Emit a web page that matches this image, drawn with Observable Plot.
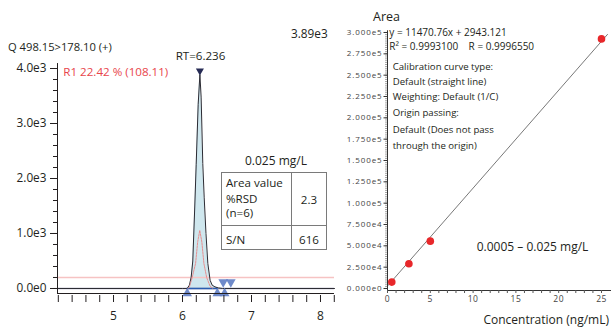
<!DOCTYPE html>
<html><head><meta charset="utf-8">
<script src="https://cdn.jsdelivr.net/npm/d3@7"></script>
<script src="https://cdn.jsdelivr.net/npm/@observablehq/plot@0.6"></script>
<style>
body{margin:0;background:#fff;}
#wrap{position:relative;width:611px;height:327px;overflow:hidden;font-family:'Open Sans',sans-serif;color:#231f20;background:#fff;}
#wrap svg{position:absolute;top:0;overflow:visible;background:transparent;}
.t{position:absolute;white-space:pre;line-height:1;}
.c{transform:translateX(-50%);}
.box{position:absolute;border:1px solid #7a7a7a;box-sizing:border-box;background:#fff;}
.ln{position:absolute;background:#7a7a7a;}
#right g[aria-label="y-axis tick label"] text{letter-spacing:0.9px;}
#right g[aria-label="x-axis tick label"] text{letter-spacing:0.5px;}
</style></head><body><div id="wrap"></div>
<script>
// ---- Left panel: chromatogram (Q 498.15>178.10) ----
const chromTime = [4.188, 6.00, 6.068, 6.10, 6.125, 6.149, 6.178, 6.198, 6.227, 6.252, 6.27, 6.294, 6.314, 6.34, 6.367, 6.40, 6.43, 6.47, 6.52, 6.58, 8.203];
const chromInt  = [0, 0, 0, 60, 200, 500, 1500, 2250, 3350, 3890, 3480, 2270, 1660, 1000, 455, 150, 60, 30, 10, 0, 0];
const smoothTime = [6.08, 6.10, 6.14, 6.19, 6.22, 6.25, 6.28, 6.31, 6.35, 6.40, 6.44];
const smoothInt  = [0, 30, 200, 460, 850, 1055, 850, 455, 200, 40, 0];
const peakTopTime = [6.252];
const peakTopInt = [3960];
const startEndUpTime = [6.068, 6.505, 6.61];
const startEndUpInt = [-90, -90, -90];
const startEndDownTime = [6.59, 6.70];
const startEndDownInt = [115, 115];
const baselineSeg = [6.068, 6.52];
const noiseLevel = [200];
const leftYTicks = [0, 1000, 2000, 3000, 4000];
const leftYLabels = ["0.0e0", "1.0e3", "2.0e3", "3.0e3", "4.0e3"];
const leftYMinor = d3.range(0, 4001, 200);
const leftXTicks = [5, 6, 7, 8];
const leftXMinor = d3.range(4.2, 8.21, 0.2);

// ---- Right panel: calibration curve ----
const calConc = [0.5, 2.5, 5, 25];
const calArea = [7500, 29000, 55500, 292500];
const fitConc = [0, 25.7];
const fitArea = [2943, 297745];
const rightYTicks = d3.range(0, 300001, 25000);
const rightYLabels = ["0.000e0","2.500e4","5.000e4","7.500e4","1.000e5","1.250e5","1.500e5","1.750e5","2.000e5","2.250e5","2.500e5","2.750e5","3.000e5"];
const rightYMinor = d3.range(0, 300001, 2500);
const rightXTicks = d3.range(0, 26, 1);
const rightXLabels = [0, 5, 10, 15, 20, 25];

const chrom = chromTime.map((t, i) => ({t, v: chromInt[i]}));
const smooth = smoothTime.map((t, i) => ({t, v: smoothInt[i]}));
const ups = startEndUpTime.map((t, i) => ({t, v: startEndUpInt[i]}));
const downs = startEndDownTime.map((t, i) => ({t, v: startEndDownInt[i]}));
const tops = peakTopTime.map((t, i) => ({t, v: peakTopInt[i]}));
const cal = calConc.map((c, i) => ({c, a: calArea[i]}));
const fit = fitConc.map((c, i) => ({c, a: fitArea[i]}));

const LX = [4.188, 8.203], LY = [-91, 4873];
const left = Plot.plot({
  width: 340, height: 327,
  marginLeft: 57, marginRight: 6, marginTop: 20, marginBottom: 34,
  x: {domain: LX, label: null}, y: {domain: LY, label: null},
  style: {fontFamily: "'Open Sans', sans-serif", color: "#231f20", background: "transparent"},
  marks: [
    Plot.areaY(chrom, {x: "t", y: "v", fill: "#cfe7ee"}),
    Plot.ruleY(noiseLevel, {stroke: "#f6c3c3", strokeWidth: 1.5}),
    Plot.ruleY([0], {stroke: "#a7a4bb", strokeWidth: 1.5}),
    Plot.ruleY([0], {x1: baselineSeg[0], x2: baselineSeg[1], stroke: "#2a5db0", strokeWidth: 1.5}),
    Plot.line(chrom, {x: "t", y: "v", stroke: "#2b2b33", strokeWidth: 1}),
    Plot.line(smooth, {x: "t", y: "v", stroke: "#e98585", strokeWidth: 0.9, strokeDasharray: "2,1"}),
    Plot.dot(ups, {x: "t", y: "v", symbol: "triangle", r: 3.6, fill: "#5f7dc4", fillOpacity: 0.9}),
    Plot.dot(downs, {x: "t", y: "v", symbol: "triangle", r: 3.6, rotate: 180, fill: "#5f7dc4", fillOpacity: 0.9}),
    Plot.dot(tops, {x: "t", y: "v", symbol: "triangle", r: 3, rotate: 180, fill: "#262b55"}),
    Plot.ruleX([LX[0]], {y1: LY[0], y2: 4090, stroke: "#231f20", strokeWidth: 1}),
    Plot.ruleY([LY[0]], {stroke: "#231f20", strokeWidth: 1}),
    Plot.axisY(leftYMinor, {tickSize: 4, tickFormat: () => "", stroke: "#231f20", label: null}),
    Plot.axisY(leftYTicks, {tickSize: 7, tickPadding: 4, tickFormat: (d, i) => leftYLabels[i], fontSize: 11.8, fill: "#231f20", stroke: "#231f20", label: null}),
    Plot.axisX(leftXMinor, {tickSize: 7, tickFormat: () => "", stroke: "#231f20", dy: 2, label: null}),
    Plot.axisX(leftXTicks, {tickSize: 0, tickPadding: 18, fontSize: 12, fill: "#231f20", label: null})
  ]
});

const RX = [0, 26.17], RY = [-2344, 314062];
const right = Plot.plot({
  width: 271, height: 327,
  marginLeft: 47, marginRight: 0, marginTop: 20, marginBottom: 37,
  x: {domain: RX, label: null}, y: {domain: RY, label: null},
  style: {fontFamily: "'Open Sans', sans-serif", color: "#231f20", background: "transparent"},
  marks: [
    Plot.line(fit, {x: "c", y: "a", stroke: "#555", strokeWidth: 0.8}),
    Plot.dot(cal, {x: "c", y: "a", r: 3.8, fill: "#e8272a"}),
    Plot.ruleX([RX[0]], {y1: RY[0], y2: 302000, stroke: "#333", strokeWidth: 1}),
    Plot.ruleY([RY[0]], {stroke: "#333", strokeWidth: 1}),
    Plot.axisY(rightYMinor, {tickSize: 2, tickFormat: () => "", stroke: "#666", strokeWidth: 0.6, label: null}),
    Plot.axisY(rightYTicks, {tickSize: 3.5, tickPadding: 1.5, tickFormat: (d, i) => rightYLabels[i], fontSize: 8, fill: "#444", stroke: "#333", label: null}),
    Plot.axisX(rightXTicks, {tickSize: 3, tickPadding: 2, tickFormat: d => rightXLabels.includes(d) ? String(d) : "", fontSize: 8.5, fill: "#444", stroke: "#555", label: null})
  ]
});

const wrap = document.getElementById("wrap");
left.style.left = "0px";
right.style.left = "340px";
right.id = "right";
wrap.appendChild(left);
wrap.appendChild(right);

function txt(s, x, cy, f, opts = {}) {
  const d = document.createElement("div");
  d.className = "t" + (opts.center ? " c" : "");
  d.textContent = s;
  d.style.fontSize = f + "px";
  d.style.left = x + "px";
  d.style.top = (cy - 0.53 * f) + "px";
  if (opts.color) d.style.color = opts.color;
  wrap.appendChild(d);
  return d;
}
// left annotations
txt("Q 498.15>178.10 (+)", 8, 46.7, 11.2);
txt("3.89e3", 291, 34.3, 11.8);
txt("RT=6.236", 200.5, 55.7, 11.6, {center: true});
txt("R1 22.42 % (108.11)", 63.3, 71.7, 11.6, {color: "#e8454b"});
txt("0.025 mg/L", 276, 161.5, 12, {center: true});
// table
const box = document.createElement("div"); box.className = "box";
Object.assign(box.style, {left: "221px", top: "171.5px", width: "106px", height: "78.5px"});
wrap.appendChild(box);
const vl = document.createElement("div"); vl.className = "ln";
Object.assign(vl.style, {left: "291px", top: "171.5px", width: "1px", height: "78.5px"});
wrap.appendChild(vl);
const hl = document.createElement("div"); hl.className = "ln";
Object.assign(hl.style, {left: "221px", top: "225px", width: "106px", height: "1px"});
wrap.appendChild(hl);
txt("Area value", 226, 183, 11.6);
txt("%RSD", 226, 199, 11.6);
txt("(n=6)", 226, 213.5, 11.6);
txt("2.3", 309, 200, 11.6, {center: true});
txt("S/N", 226, 240, 11.6);
txt("616", 309, 240, 11.6, {center: true});
// right annotations
txt("Area", 373, 18, 12.5);
txt("y = 11470.76x + 2943.121", 389.3, 32.7, 10);
txt("R\u00b2 = 0.9993100    R = 0.9996550", 389.3, 46.7, 10);
const notes = ["Calibration curve type:", "Default (straight line)", "Weighting: Default (1/C)", "Origin passing:", "Default (Does not pass", "through the origin)"];
const noteY = [66.7, 81.7, 97.3, 113.3, 130, 145.7];
notes.forEach((s, i) => txt(s, 392.7, noteY[i], 9.6));
txt("0.0005 \u2013 0.025 mg/L", 476.7, 247.5, 12);
const cl = txt("Concentration (ng/mL)", 0, 320, 12);
cl.style.left = ""; cl.style.right = "2px";
</script></body></html>
